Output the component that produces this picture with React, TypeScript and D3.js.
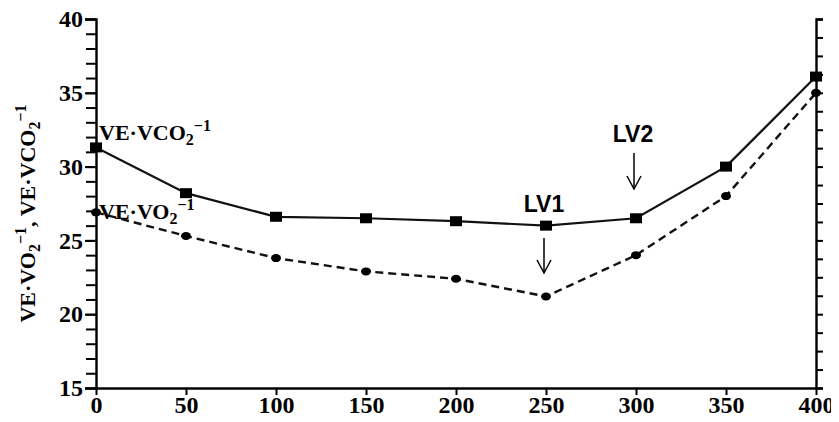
import React, { useRef, useEffect } from "react";
import * as d3 from "d3";

// workload (W)
const workload = [0, 50, 100, 150, 200, 250, 300, 350, 400];
// VE·VCO2^-1 (solid, squares)
const veVco2 = [31.3, 28.2, 26.6, 26.5, 26.3, 26.0, 26.5, 30.0, 36.1];
// VE·VO2^-1 (dashed, dots)
const veVo2 = [26.9, 25.3, 23.8, 22.9, 22.4, 21.2, 24.0, 28.0, 35.0];
const yTickLabels = [15, 20, 25, 30, 35, 40];
const yMinorTicks = d3.range(15, 41, 1);
const xTickLabels = [0, 50, 100, 150, 200, 250, 300, 350, 400];
const thresholds = [
  { name: "LV1", at: 250 },
  { name: "LV2", at: 300 },
];

const W = 839;
const H = 422;
const serif = "'Liberation Serif', 'Times New Roman', serif";

export default function App() {
  const svgRef = useRef<SVGSVGElement>(null);

  useEffect(() => {
    const svg = d3.select(svgRef.current);
    svg.selectAll("*").remove();

    const left = 96;
    const right = 816;
    const top = 19;
    const bottom = 388;

    const x = d3.scaleLinear().domain([0, 400]).range([left, right]);
    const y = d3.scaleLinear().domain([15, 40]).range([bottom, top]);
    // right axis has its own (unlabelled) division
    const yR = d3.scaleLinear().domain([0, 20]).range([bottom, top]);

    // minor ticks on the left axis, one per unit
    const gm = svg.append("g").attr("transform", `translate(${left},0)`);
    gm.call(d3.axisLeft(y).tickValues(yMinorTicks).tickSize(10).tickFormat(() => ""));
    gm.selectAll("line").attr("stroke", "#000").attr("stroke-width", 2);

    // left axis
    const gl = svg.append("g").attr("transform", `translate(${left},0)`);
    gl.call(
      d3.axisLeft(y).tickValues(yTickLabels).tickSize(11).tickPadding(2).tickFormat(d3.format("d"))
    );
    gl.selectAll("path.domain").attr("stroke-width", 2.4);
    gl.selectAll("line").attr("stroke-width", 2);
    gl.selectAll("text")
      .attr("font-family", serif)
      .attr("font-weight", "bold")
      .attr("font-size", 24)
      .attr("fill", "#000");

    // right axis
    const gr = svg.append("g").attr("transform", `translate(${right},0)`);
    gr.call(d3.axisRight(yR).ticks(20).tickSize(7).tickFormat(() => ""));
    gr.selectAll("path.domain").attr("stroke-width", 2.4);
    gr.selectAll("line").attr("stroke-width", 2);

    // bottom axis
    const gb = svg.append("g").attr("transform", `translate(0,${bottom})`);
    gb.call(d3.axisBottom(x).tickValues(xTickLabels).tickSize(7).tickPadding(1).tickSizeOuter(0));
    gb.selectAll("path.domain").attr("stroke-width", 2.4);
    gb.selectAll("line").attr("stroke-width", 2);
    gb.selectAll("text")
      .attr("font-family", serif)
      .attr("font-weight", "bold")
      .attr("font-size", 24)
      .attr("fill", "#000");

    const line = d3
      .line<number>()
      .x((_, i) => x(workload[i]))
      .y((d) => y(d));

    svg.append("path")
      .datum(veVo2)
      .attr("fill", "none")
      .attr("stroke", "#111")
      .attr("stroke-width", 2.4)
      .attr("stroke-dasharray", "8,5")
      .attr("d", line);

    svg.append("path")
      .datum(veVco2)
      .attr("fill", "none")
      .attr("stroke", "#111")
      .attr("stroke-width", 2.2)
      .attr("d", line);

    svg.selectAll("rect.sq")
      .data(veVco2)
      .enter()
      .append("rect")
      .attr("class", "sq")
      .attr("x", (_, i) => x(workload[i]) - 6)
      .attr("y", (d) => y(d) - 5)
      .attr("width", 12)
      .attr("height", 10)
      .attr("fill", "#000");

    svg.selectAll("ellipse.dot")
      .data(veVo2)
      .enter()
      .append("ellipse")
      .attr("class", "dot")
      .attr("cx", (_, i) => x(workload[i]))
      .attr("cy", (d) => y(d))
      .attr("rx", 5)
      .attr("ry", 4)
      .attr("fill", "#000");

    // series labels
    const lab = (txt: string, px: number, py: number) => {
      const t = svg.append("text")
        .attr("x", px)
        .attr("y", py)
        .attr("font-family", serif)
        .attr("font-weight", "bold")
        .attr("font-size", 22)
        .attr("fill", "#000");
      t.append("tspan").text(txt);
      t.append("tspan").attr("font-size", 16).attr("dy", 5).text("2");
      t.append("tspan").attr("font-size", 16).attr("dy", -14).text("−1");
    };
    lab("VE·VCO", 99, 140);
    lab("VE·VO", 99, 219);

    // y axis title
    const yt = svg.append("text")
      .attr("transform", `translate(35,${(top + bottom) / 2 + 10}) rotate(-90)`)
      .attr("text-anchor", "middle")
      .attr("font-family", serif)
      .attr("font-weight", "bold")
      .attr("font-size", 22)
      .attr("fill", "#000");
    yt.append("tspan").text("VE·VO");
    yt.append("tspan").attr("font-size", 16).attr("dy", 5).text("2");
    yt.append("tspan").attr("font-size", 16).attr("dy", -14).text("−1");
    yt.append("tspan").attr("dy", 9).text(", VE·VCO");
    yt.append("tspan").attr("font-size", 16).attr("dy", 5).text("2");
    yt.append("tspan").attr("font-size", 16).attr("dy", -14).text("−1");

    // threshold labels and arrows
    const arrow = (ax: number, y0: number, y1: number) => {
      svg.append("line").attr("x1", ax).attr("x2", ax).attr("y1", y0).attr("y2", y1)
        .attr("stroke", "#000").attr("stroke-width", 1.5);
      svg.append("path")
        .attr("d", `M${ax - 7},${y1 - 13} L${ax},${y1} L${ax + 7},${y1 - 13}`)
        .attr("fill", "none").attr("stroke", "#000").attr("stroke-width", 1.5);
    };
    const lv1 = thresholds[0];
    const lv2 = thresholds[1];
    svg.append("text")
      .attr("x", x(lv1.at) - 2).attr("y", 212)
      .attr("text-anchor", "middle")
      .attr("font-family", "'Liberation Sans', Arial, sans-serif")
      .attr("font-weight", "bold").attr("font-size", 23).attr("fill", "#000")
      .text(lv1.name);
    arrow(x(lv1.at) - 2, 238, 273);
    svg.append("text")
      .attr("x", x(lv2.at) - 3).attr("y", 142)
      .attr("text-anchor", "middle")
      .attr("font-family", "'Liberation Sans', Arial, sans-serif")
      .attr("font-weight", "bold").attr("font-size", 23).attr("fill", "#000")
      .text(lv2.name);
    arrow(x(lv2.at) - 2, 153, 189);
  }, []);

  return (
    <div style={{ margin: -8 }}>
      <svg ref={svgRef} width={W} height={H} style={{ display: "block", background: "#fff" }} />
    </div>
  );
}
